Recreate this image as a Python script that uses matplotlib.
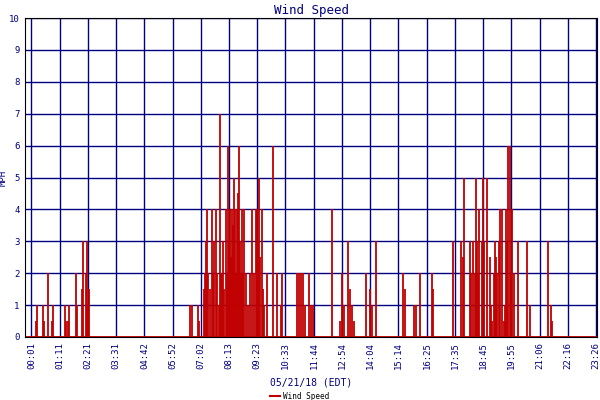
import matplotlib
matplotlib.use("Agg")
import matplotlib.pyplot as plt

# minutes after midnight and wind speed (mph) of each gust spike
minutes = [12, 15, 30, 32, 42, 52, 55, 84, 87, 92, 94, 112, 114, 127, 129, 137, 139, 142, 144,
           396, 401, 415, 418,
           430, 433, 435, 438, 440, 445, 450, 453, 455, 460, 463, 468, 470, 473, 475, 478, 480,
           485, 488, 490, 493, 495, 498, 500, 503, 505, 508, 510, 513, 515, 518, 520, 523, 525,
           528, 530, 535, 540, 545, 550, 555, 560, 562, 565, 567, 570, 575, 577, 580, 587, 602,
           612, 622, 624,
           662, 667, 672, 677, 682, 692, 697, 702, 749, 769, 774, 779, 789, 794, 799, 804,
           834, 844, 849, 858, 926, 931, 953, 958, 968, 998, 1000,
           1050, 1070, 1075, 1077, 1092, 1095, 1100, 1105, 1107, 1110, 1112, 1115, 1122, 1125,
           1127, 1135, 1142, 1145, 1147, 1152, 1155, 1157, 1160, 1165, 1167, 1172, 1177, 1179,
           1182, 1184, 1187, 1192, 1194, 1197, 1202, 1212, 1234, 1242, 1287, 1294, 1297]
speed = [0.5, 1, 1, 0.5, 2, 0.5, 1, 1, 0.5, 0.5, 1, 2, 1, 1.5, 3, 2, 3, 1, 1.5,
         1, 1, 1, 0.5,
         1.5, 2, 3, 4, 2, 1.5, 4, 2, 3, 4, 2, 1, 7, 2, 2, 3, 1.5,
         4, 2, 6, 3, 4, 2.5, 4, 3.5, 5, 4, 2, 4, 4.5, 6, 3, 2, 4,
         2, 4, 2, 1, 2, 4, 2, 4, 4, 3, 5, 2.5, 4, 1.5, 1, 2, 6,
         2, 1, 2,
         2, 2, 2, 2, 1, 2, 1, 1, 4, 0.5, 2, 1, 3, 1.5, 1, 0.5,
         2, 1.5, 1, 3, 2, 1.5, 1, 1, 2, 2, 1.5,
         3, 3, 2.5, 5, 3, 2, 3, 2, 5, 3, 2, 4, 3, 5,
         3, 5, 2.5, 1, 0.5, 2, 3, 2.5, 2, 3, 4, 4, 0.5, 1,
         4, 3, 6, 6, 2, 4, 2, 3, 3, 1, 3, 1, 0.5]
tick_labels = ["00:01", "01:11", "02:21", "03:31", "04:42", "05:52", "07:02", "08:13",
               "09:23", "10:33", "11:44", "12:54", "14:04", "15:14", "16:25", "17:35",
               "18:45", "19:55", "21:06", "22:16", "23:26"]

navy = "#000080"
red = "#c00000"
plt.rcParams["font.family"] = "DejaVu Sans Mono"

fig = plt.figure(figsize=(6, 4), dpi=100)
ax = fig.add_axes([25 / 600, 63 / 400, 572 / 600, 319 / 400])

ticks = [int(t[:2]) * 60 + int(t[3:]) for t in tick_labels]
ax.set_xlim(-15, 1408)
ax.set_ylim(0, 10)
ax.set_xticks(ticks)
ax.set_xticklabels(tick_labels, rotation=90, fontsize=6.5, color=navy)
ax.set_yticks(range(11))
ax.tick_params(axis="y", labelsize=6.5, labelcolor=navy, length=0, pad=4)
ax.tick_params(axis="x", length=0)
ax.grid(True, color=navy, linewidth=1)
ax.set_axisbelow(True)
for s in ax.spines.values():
    s.set_color("black")

ax.vlines(minutes, 0, speed, color=red, linewidth=1.3)
ax.axhline(0, color=red, linewidth=2)

ax.set_title("Wind Speed", color=navy, fontsize=9, pad=3)
ax.set_ylabel("MPH", color=navy, fontsize=6.5)
ax.yaxis.set_label_coords(-0.03, 0.5)
ax.set_xlabel("05/21/18 (EDT)", color=navy, fontsize=7, labelpad=6)

fig.legend(handles=[plt.Line2D([], [], color=red, linewidth=1.5)], labels=["Wind Speed"],
           loc="lower center", bbox_to_anchor=(0.5, -0.02), frameon=False, fontsize=5.5,
           handlelength=1.3, handletextpad=0.4)

fig.savefig("out.png", dpi=100)
